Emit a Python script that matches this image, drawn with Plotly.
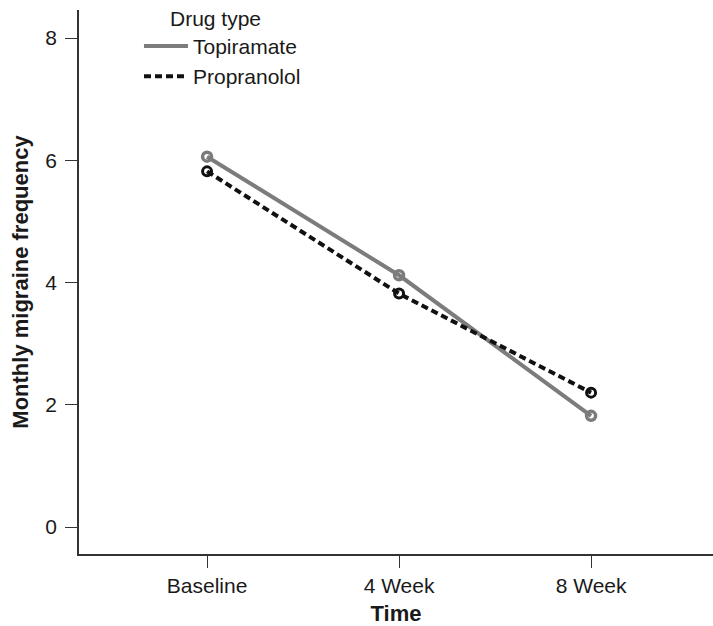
import plotly.graph_objects as go

times = ["Baseline", "4 Week", "8 Week"]
topiramate = [6.06, 4.12, 1.82]
propranolol = [5.82, 3.82, 2.20]
y_ticks = [0, 2, 4, 6, 8]

FONT = "Liberation Sans, Arial, Helvetica, sans-serif"
GRAY = "#7c7c7c"
BLACK = "#111111"

fig = go.Figure()
# lines (shown in legend)
fig.add_trace(go.Scatter(
    x=times, y=topiramate, name="Topiramate", mode="lines",
    line=dict(color=GRAY, width=4),
))
fig.add_trace(go.Scatter(
    x=times, y=propranolol, name="Propranolol", mode="lines",
    line=dict(color=BLACK, width=4, dash="7px,4px"),
))
# markers (not in legend)
fig.add_trace(go.Scatter(
    x=times, y=topiramate, name="Topiramate", mode="markers", showlegend=False,
    marker=dict(symbol="circle-open", size=9, color=GRAY, line=dict(width=3.5, color=GRAY)),
))
fig.add_trace(go.Scatter(
    x=times, y=propranolol, name="Propranolol", mode="markers", showlegend=False,
    marker=dict(symbol="circle-open", size=9, color=BLACK, line=dict(width=3, color=BLACK)),
))

fig.update_layout(
    width=713, height=626,
    margin=dict(l=79, r=0, t=10, b=72),
    paper_bgcolor="white", plot_bgcolor="white",
    font=dict(family=FONT, size=21, color="#1a1a1a"),
    showlegend=True,
    legend=dict(
        x=0.0946, y=0.971, xanchor="left", yanchor="top",
        bgcolor="rgba(0,0,0,0)", font=dict(size=21),
        itemwidth=44, tracegroupgap=0,
    ),
    annotations=[dict(
        text="Drug type", x=(168 - 79) / 634, y=0.985, xref="paper", yref="paper",
        xanchor="left", yanchor="middle", showarrow=False,
        font=dict(size=21, family=FONT, color="#1a1a1a"),
    )],
)
fig.update_xaxes(
    type="category", range=[-0.667, 2.635],
    showline=True, linecolor="#333333", linewidth=1.5,
    ticks="outside", ticklen=12, tickcolor="#333333", tickwidth=1.2,
    showgrid=False, zeroline=False,
    title=dict(text="<b>Time</b>", font=dict(size=22), standoff=14),
    tickfont=dict(size=21),
)
fig.update_yaxes(
    range=[-0.44, 8.46], tickvals=y_ticks,
    showline=True, linecolor="#333333", linewidth=1.5,
    ticks="outside", ticklen=12, tickcolor="#333333", tickwidth=1.2,
    showgrid=False, zeroline=False, ticklabelstandoff=4,
    title=dict(text="<b>Monthly migraine frequency</b>", font=dict(size=22), standoff=11),
    tickfont=dict(size=21),
)

fig.write_html("out.html")
